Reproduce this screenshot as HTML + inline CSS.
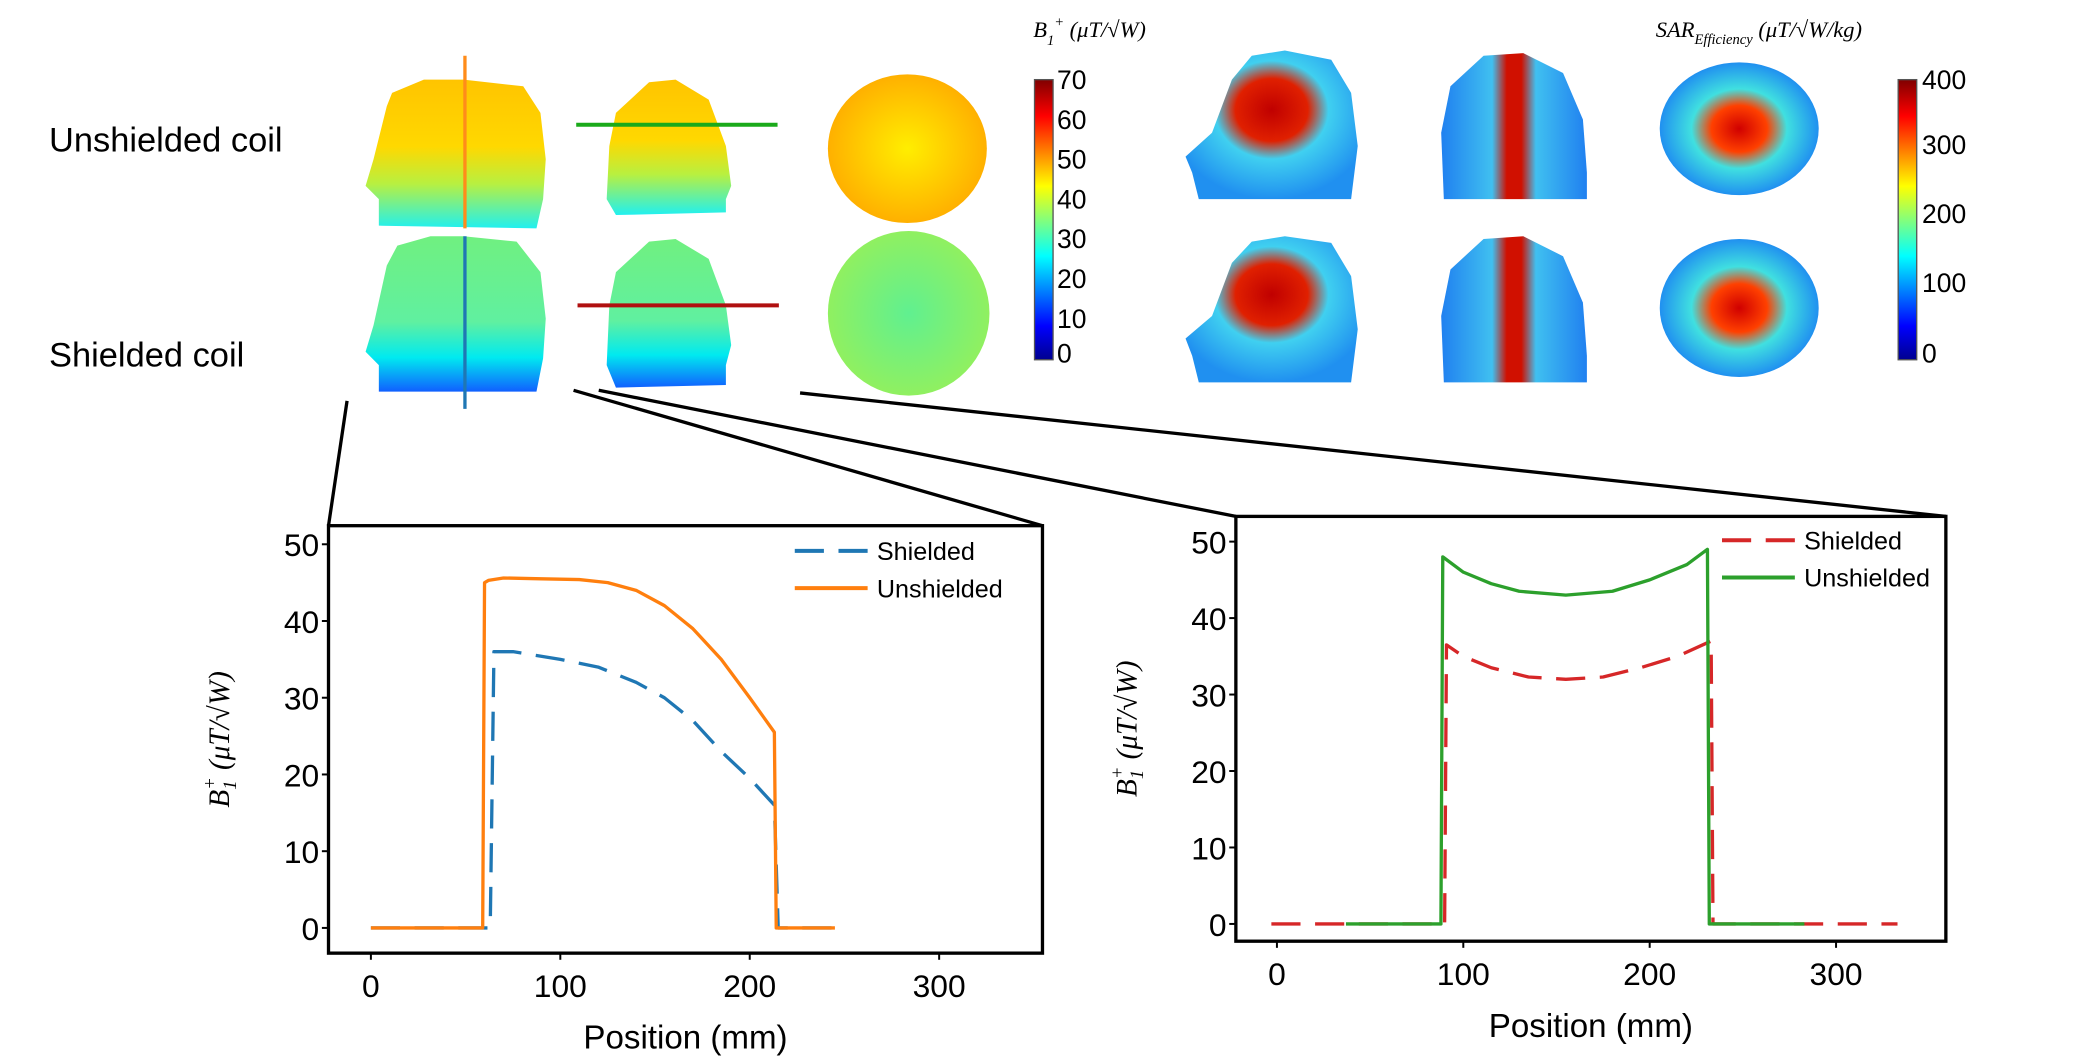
<!DOCTYPE html>
<html><head><meta charset="utf-8">
<style>
html,body{margin:0;padding:0;background:#fff;}
svg{display:block;font-family:"Liberation Sans",sans-serif;}
</style></head>
<body>
<svg id="fig" width="2077" height="1062" viewBox="0 0 1568 800" preserveAspectRatio="none" xmlns="http://www.w3.org/2000/svg">
<defs>
  <linearGradient id="jet" x1="0" y1="1" x2="0" y2="0">
    <stop offset="0" stop-color="#00008f"/><stop offset="0.12" stop-color="#0000ff"/>
    <stop offset="0.37" stop-color="#00ffff"/><stop offset="0.62" stop-color="#ffff00"/>
    <stop offset="0.87" stop-color="#ff0000"/><stop offset="1" stop-color="#800000"/>
  </linearGradient>
  <linearGradient id="unsh" x1="0" y1="0" x2="0" y2="1">
    <stop offset="0" stop-color="#ffc400"/><stop offset="0.45" stop-color="#ffd800"/>
    <stop offset="0.7" stop-color="#b8f040"/><stop offset="1" stop-color="#20f0f0"/>
  </linearGradient>
  <linearGradient id="sh" x1="0" y1="0" x2="0" y2="1">
    <stop offset="0" stop-color="#70f080"/><stop offset="0.55" stop-color="#60f0a0"/>
    <stop offset="0.78" stop-color="#00eaf0"/><stop offset="1" stop-color="#1060ff"/>
  </linearGradient>
  <radialGradient id="unshAx"><stop offset="0" stop-color="#ffee00"/><stop offset="1" stop-color="#ffb000"/></radialGradient>
  <radialGradient id="shAx"><stop offset="0" stop-color="#60f090"/><stop offset="1" stop-color="#90f060"/></radialGradient>
  <radialGradient id="sarS" cx="0.5" cy="0.4" r="0.6"><stop offset="0" stop-color="#c00000"/><stop offset="0.35" stop-color="#e02000"/><stop offset="0.55" stop-color="#40d0f0"/><stop offset="1" stop-color="#2090f0"/></radialGradient>
  <linearGradient id="sarC" x1="0" y1="0" x2="1" y2="0"><stop offset="0" stop-color="#2080f0"/><stop offset="0.35" stop-color="#40c0f0"/><stop offset="0.45" stop-color="#d01000"/><stop offset="0.55" stop-color="#d01000"/><stop offset="0.65" stop-color="#40c0f0"/><stop offset="1" stop-color="#2080f0"/></linearGradient>
  <radialGradient id="sarA"><stop offset="0" stop-color="#d00000"/><stop offset="0.35" stop-color="#ff4000"/><stop offset="0.6" stop-color="#40e0e0"/><stop offset="1" stop-color="#2090f0"/></radialGradient>
</defs>

<text x="37" y="114" font-size="26">Unshielded coil</text>
<text x="37" y="276" font-size="26">Shielded coil</text>

<g>
  <path d="M286,170 L286,150 L276,140 L282,120 L292,80 L296,70 L320,60 L350,60 L395,65 L408,85 L412,120 L410,150 L405,172 Z" fill="url(#unsh)"/>
  <path d="M458,150 L460,110 L465,85 L490,62 L510,60 L535,75 L548,110 L552,140 L548,150 L548,160 L465,162 Z" fill="url(#unsh)"/>
  <ellipse cx="685" cy="112" rx="60" ry="56" fill="url(#unshAx)"/>
  <path d="M286,295 L286,275 L276,265 L282,245 L292,200 L300,185 L325,178 L350,178 L390,182 L408,205 L412,240 L410,270 L405,295 Z" fill="url(#sh)"/>
  <path d="M458,275 L460,230 L465,205 L490,182 L510,180 L535,195 L548,230 L552,260 L548,275 L548,290 L465,292 Z" fill="url(#sh)"/>
  <ellipse cx="686" cy="236" rx="61" ry="62" fill="url(#shAx)"/>
  <line x1="351" y1="42" x2="351" y2="172" stroke="#ff8c1a" stroke-width="2.5"/>
  <line x1="351" y1="178" x2="351" y2="308" stroke="#1f77b4" stroke-width="2.5"/>
  <line x1="435" y1="94" x2="587" y2="94" stroke="#1aaa1a" stroke-width="3"/>
  <line x1="436" y1="230" x2="588" y2="230" stroke="#b01010" stroke-width="3"/>
</g>
<g>
  <text x="780" y="28" font-size="17" font-family="Liberation Serif" font-style="italic">B<tspan font-size="11" dy="6">1</tspan><tspan font-size="11" dy="-14">+</tspan><tspan dy="8"> (μT/√W)</tspan></text>
  <rect x="781" y="60" width="14" height="211" fill="url(#jet)" stroke="#555" stroke-width="1"/>
  <g font-size="20" text-anchor="start">
    <text x="798" y="67">70</text><text x="798" y="97">60</text><text x="798" y="127">50</text>
    <text x="798" y="157">40</text><text x="798" y="187">30</text><text x="798" y="217">20</text>
    <text x="798" y="247">10</text><text x="798" y="273">0</text>
  </g>
</g>
<g>
  <path d="M905,150 L900,130 L895,118 L915,100 L930,60 L945,42 L970,38 L1005,45 L1020,70 L1025,110 L1020,150 Z" fill="url(#sarS)"/>
  <path d="M1090,150 L1088,100 L1095,65 L1120,42 L1150,40 L1180,55 L1195,90 L1198,130 L1198,150 Z" fill="url(#sarC)"/>
  <ellipse cx="1313" cy="97" rx="60" ry="50" fill="url(#sarA)"/>
  <path d="M905,288 L900,268 L895,255 L915,238 L930,198 L945,182 L970,178 L1005,183 L1020,208 L1025,248 L1020,288 Z" fill="url(#sarS)"/>
  <path d="M1090,288 L1088,238 L1095,203 L1120,180 L1150,178 L1180,193 L1195,228 L1198,268 L1198,288 Z" fill="url(#sarC)"/>
  <ellipse cx="1313" cy="232" rx="60" ry="52" fill="url(#sarA)"/>
</g>
<g>
  <text x="1250" y="28" font-size="17" font-family="Liberation Serif" font-style="italic">SAR<tspan font-size="11" dy="5">Efficiency</tspan><tspan dy="-5"> (μT/√W/kg)</tspan></text>
  <rect x="1433" y="60" width="14" height="211" fill="url(#jet)" stroke="#555" stroke-width="1"/>
  <g font-size="20">
    <text x="1451" y="67">400</text><text x="1451" y="116">300</text><text x="1451" y="168">200</text>
    <text x="1451" y="220">100</text><text x="1451" y="273">0</text>
  </g>
</g>
<g stroke="#000" stroke-width="2.5">
  <line x1="262" y1="302" x2="248" y2="396"/>
  <line x1="433" y1="294" x2="787" y2="396"/>
  <line x1="452" y1="294" x2="933" y2="389"/>
  <line x1="604" y1="296" x2="1469" y2="389"/>
</g>
<g id="charts"></g>
</svg>
<script>
const leftTicksX = [0, 100, 200, 300];
const leftTicksY = [0, 10, 20, 30, 40, 50];
const leftUnshX = [0, 59, 60, 62, 70, 90, 110, 125, 140, 155, 170, 185, 200, 213, 214, 245];
const leftUnshY = [0, 0, 45, 45.3, 45.6, 45.5, 45.4, 45, 44, 42, 39, 35, 30, 25.5, 0, 0];
const leftShX = [0, 63, 65, 75, 100, 120, 140, 155, 170, 185, 200, 213, 215, 248];
const leftShY = [0, 0, 36, 36, 35, 34, 32, 30, 27, 23, 19.5, 16, 0, 0];
const rightTicksX = [0, 100, 200, 300];
const rightTicksY = [0, 10, 20, 30, 40, 50];
const rightUnshX = [37, 88, 89, 100, 115, 130, 155, 180, 200, 220, 231, 232, 283];
const rightUnshY = [0, 0, 48, 46, 44.5, 43.5, 43, 43.5, 45, 47, 49, 0, 0];
const rightShX = [-3, 90, 91, 100, 115, 135, 155, 175, 195, 215, 233, 234, 333];
const rightShY = [0, 0, 36.5, 35, 33.5, 32.3, 32, 32.3, 33.5, 35, 37, 0, 0];

const NS = 'http://www.w3.org/2000/svg';
const root = document.getElementById('charts');
function mk(tag, attrs, parent) {
  const e = document.createElementNS(NS, tag);
  for (const k in attrs) e.setAttribute(k, attrs[k]);
  parent.appendChild(e);
  return e;
}
function chart(cfg) {
  const g = mk('g', {}, root);
  
  
  const sx = v => cfg.x0 + v * cfg.px;
  const sy = v => cfg.y0 - v * cfg.py;
  const box = mk('rect', {x: cfg.L, y: cfg.T, width: cfg.R - cfg.L, height: cfg.B - cfg.T, fill: 'none', stroke: '#000', 'stroke-width': 2.5}, g);
  
  
  cfg.tx.forEach(t => {
    mk('line', {x1: sx(t), x2: sx(t), y1: cfg.B, y2: cfg.B + 5, stroke: '#000', 'stroke-width': 1.5}, g);
    const lab = mk('text', {x: sx(t), y: cfg.B + 33, 'font-size': 24, 'text-anchor': 'middle'}, g);
    lab.textContent = t;
    
    
  });
  cfg.ty.forEach(t => {
    mk('line', {x1: cfg.L - 5, x2: cfg.L, y1: sy(t), y2: sy(t), stroke: '#000', 'stroke-width': 1.5}, g);
    const lab = mk('text', {x: cfg.L - 7, y: sy(t) + 9, 'font-size': 24, 'text-anchor': 'end'}, g);
    lab.textContent = t;
    
    
  });
  const xt = mk('text', {x: (cfg.L + cfg.R) / 2, y: cfg.B + 72, 'font-size': 25, 'text-anchor': 'middle'}, g);
  xt.textContent = 'Position (mm)';
  
  
  const yt = mk('text', {x: 0, y: 0, 'font-size': 22, 'font-family': 'Liberation Serif', 'font-style': 'italic', 'text-anchor': 'middle', transform: `translate(${cfg.L - 75},${(cfg.T + cfg.B) / 2}) rotate(-90)`}, g);
  yt.innerHTML = 'B<tspan font-size="14" dy="5">1</tspan><tspan font-size="14" dx="-7" dy="-15">+</tspan><tspan dy="10"> (μT/√W)</tspan>';
  
  
  cfg.series.forEach(s => {
    const pts = s.x.map((v, i) => sx(v).toFixed(1) + ',' + sy(s.y[i]).toFixed(1)).join(' ');
    const pl = mk('polyline', {points: pts, fill: 'none', stroke: s.color, 'stroke-width': 2.5, 'stroke-dasharray': s.dash || 'none', 'stroke-linejoin': 'round'}, g);
    
    
  });
  cfg.series.forEach((s, i) => {
    const ly = cfg.legY + i * 28;
    const ll = mk('line', {x1: cfg.legX, x2: cfg.legX + 55, y1: ly, y2: ly, stroke: s.color, 'stroke-width': 3, 'stroke-dasharray': s.dash || 'none'}, g);
    
    
    const lt = mk('text', {x: cfg.legX + 62, y: ly + 7, 'font-size': 19}, g);
    lt.textContent = s.label;
    
    
  });
}
chart({name: 'sagittal-profile-chart', L: 248, R: 787, T: 396, B: 718, x0: 280, px: 1.43, y0: 699, py: 5.78,
  tx: leftTicksX, ty: leftTicksY, legX: 600, legY: 415,
  series: [
    {name: 'shielded-line', label: 'Shielded', x: leftShX, y: leftShY, color: '#1f77b4', dash: '22,11'},
    {name: 'unshielded-line', label: 'Unshielded', x: leftUnshX, y: leftUnshY, color: '#ff7f0e'}
  ]});
chart({name: 'coronal-profile-chart', L: 933, R: 1469, T: 389, B: 709, x0: 964, px: 1.407, y0: 696, py: 5.76,
  tx: rightTicksX, ty: rightTicksY, legX: 1300, legY: 407,
  series: [
    {name: 'shielded-line', label: 'Shielded', x: rightShX, y: rightShY, color: '#d62728', dash: '22,11'},
    {name: 'unshielded-line', label: 'Unshielded', x: rightUnshX, y: rightUnshY, color: '#2ca02c'}
  ]});
</script>
</body></html>
